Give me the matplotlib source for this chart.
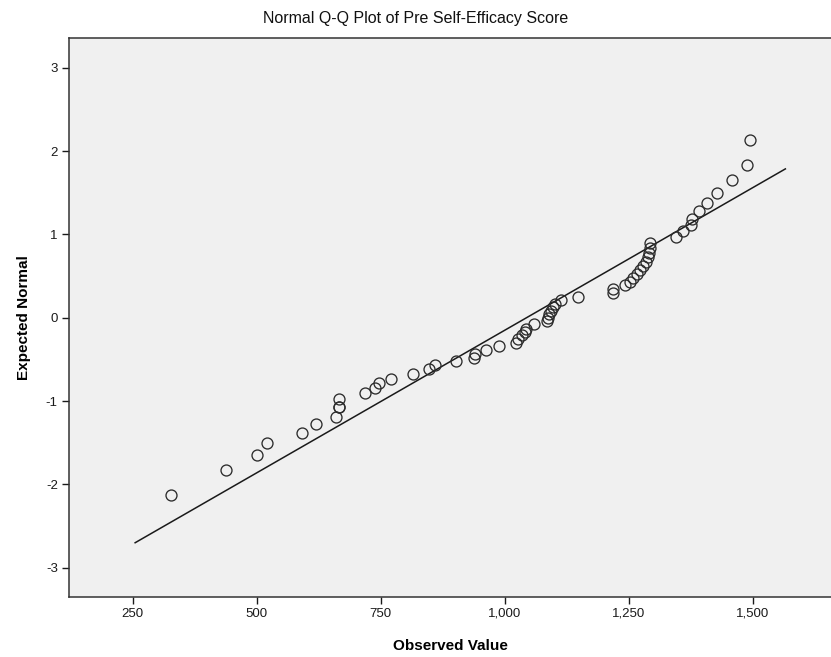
import matplotlib
matplotlib.use('Agg')
import matplotlib.pyplot as plt
from matplotlib.ticker import FuncFormatter

# observed scores (x) and their expected normal values (y)
observed = [327, 439, 500, 521, 591, 619, 660, 666, 666, 667,
            718, 738, 746, 770, 816, 848, 860, 902, 939, 940,
            962, 989, 1023, 1027, 1034, 1041, 1044, 1060, 1085, 1088,
            1090, 1093, 1098, 1101, 1113, 1147, 1219, 1219, 1243, 1253,
            1259, 1266, 1272, 1279, 1286, 1289, 1292, 1293, 1294, 1346,
            1360, 1375, 1377, 1391, 1408, 1429, 1458, 1488, 1494]
expected = [-2.13, -1.83, -1.65, -1.50, -1.38, -1.28, -1.19, -1.07, -1.07, -0.97,
            -0.90, -0.84, -0.78, -0.73, -0.67, -0.62, -0.57, -0.52, -0.48, -0.43,
            -0.39, -0.34, -0.30, -0.25, -0.21, -0.17, -0.13, -0.08, -0.04, 0.00,
            0.04, 0.08, 0.13, 0.17, 0.21, 0.25, 0.30, 0.34, 0.39, 0.43,
            0.48, 0.52, 0.57, 0.62, 0.67, 0.73, 0.78, 0.84, 0.90, 0.97,
            1.04, 1.11, 1.19, 1.28, 1.38, 1.50, 1.65, 1.83, 2.13]

# reference line y = (x - mean) / sd, drawn between these x values
line_mean = 1044
line_sd = 292
line_x = [255, 1566]

x_ticks = [250, 500, 750, 1000, 1250, 1500]
y_ticks = [-3, -2, -1, 0, 1, 2, 3]

plt.rcParams['font.family'] = ['Liberation Sans', 'DejaVu Sans']

fig = plt.figure(figsize=(8.31, 6.57), dpi=100)
ax = fig.add_axes([0.083, 0.0918, 0.917, 0.8504])
ax.set_facecolor('#f0f0f0')

line_y = [(x - line_mean) / line_sd for x in line_x]
ax.plot(line_x, line_y, color='#1a1a1a', linewidth=1.1, zorder=2)
ax.plot(observed, expected, linestyle='none', marker='o', markersize=7.9,
        markerfacecolor='none', markeredgecolor='#2b2b2b', markeredgewidth=0.95, zorder=3)

ax.set_xlim(121.6, 1658)
ax.set_ylim(-3.35, 3.36)
ax.set_xticks(x_ticks)
ax.set_yticks(y_ticks)
ax.xaxis.set_major_formatter(FuncFormatter(lambda v, p: '{:,.0f}'.format(v)))
ax.yaxis.set_major_formatter(FuncFormatter(lambda v, p: '{:.0f}'.format(v)))
ax.tick_params(direction='out', length=5, width=1, colors='#1a1a1a', labelsize=9.5, pad=3)

for side in ['left', 'bottom', 'top']:
    ax.spines[side].set_color('#333333')
    ax.spines[side].set_linewidth(1.1)
ax.spines['right'].set_visible(False)

ax.set_xlabel('Observed Value', fontsize=11, fontweight='bold', labelpad=14)
ax.set_ylabel('Expected Normal', fontsize=11, fontweight='bold', labelpad=11)
fig.text(0.5, 0.972, 'Normal Q-Q Plot of Pre Self-Efficacy Score',
         ha='center', va='center', fontsize=11.5, color='#111111')

fig.savefig('out.png', dpi=100)
